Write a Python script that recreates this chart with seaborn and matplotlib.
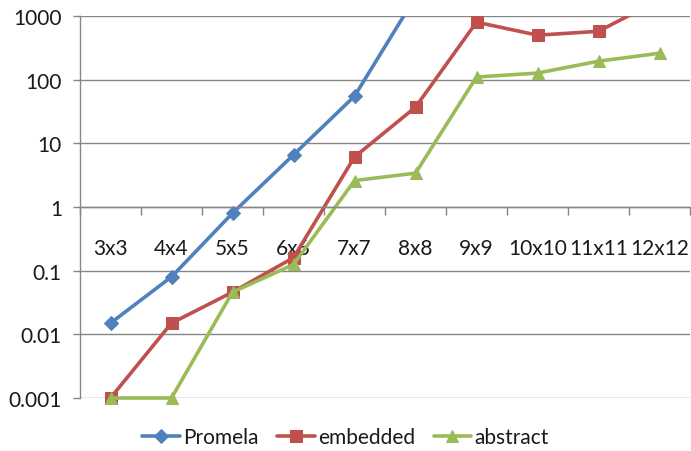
import numpy as np
import pandas as pd
import matplotlib
matplotlib.use("Agg")
import matplotlib.pyplot as plt
from matplotlib.patches import Rectangle
from matplotlib.ticker import FixedLocator, NullFormatter, FixedFormatter
import seaborn as sns

# Grid sizes on the category axis
categories = ["3x3", "4x4", "5x5", "6x6", "7x7", "8x8", "9x9", "10x10", "11x11", "12x12"]

# Run times per model (log scale); NaN where no value exists
promela = [0.015, 0.08, 0.8, 6.6, 55, 2000, np.nan, np.nan, np.nan, np.nan]
embedded = [0.001, 0.015, 0.046, 0.16, 6.1, 37, 800, 500, 575, 1800]
abstract = [0.001, 0.001, 0.046, 0.125, 2.6, 3.4, 110, 127, 195, 260]

series_names = ["Promela", "embedded", "abstract"]
series_values = [promela, embedded, abstract]
colors = ["#4F81BD", "#C0504D", "#9BBB59"]
markers = ["D", "s", "^"]
marker_sizes = [7, 8.5, 8.5]

ytick_values = [0.001, 0.01, 0.1, 1, 10, 100, 1000]
ytick_labels = ["0.001", "0.01", "0.1", "1", "10", "100", "1000"]

rows = []
for name, vals in zip(series_names, series_values):
    for i, v in enumerate(vals):
        rows.append({"pos": i, "value": v, "series": name})
df = pd.DataFrame(rows).dropna()

sns.set_theme(style="white")
plt.rcParams["font.family"] = ["Lato", "DejaVu Sans"]

FS = 15

fig = plt.figure(figsize=(6.91, 4.52), dpi=100)
ax = fig.add_axes([80 / 691, 1 - 399 / 452, 610 / 691, 382 / 452])

grid_color = "#868686"
text_color = "#1a1a1a"

for name, color, mk, ms in zip(series_names, colors, markers, marker_sizes):
    sub = df[df["series"] == name]
    sns.lineplot(data=sub, x="pos", y="value", ax=ax, color=color, marker=mk,
                 markersize=ms, markeredgecolor=color, linewidth=2.6,
                 label=name, legend=False, estimator=None, sort=False)

# clip only at the top of the plot so markers on the bottom gridline stay whole
for line in ax.lines:
    line.set_clip_path(Rectangle((-0.05, -0.1), 1.1, 1.1, transform=ax.transAxes))

ax.set_yscale("log")
ax.set_ylim(0.001, 1000)
ax.set_xlim(-0.5, len(categories) - 0.5)

# horizontal gridlines at each decade
ax.yaxis.set_major_locator(FixedLocator(ytick_values))
ax.yaxis.set_major_formatter(FixedFormatter(ytick_labels))
ax.yaxis.set_minor_locator(FixedLocator([]))
ax.grid(axis="y", color=grid_color, linewidth=1.0)
ax.grid(axis="x", visible=False)
ax.set_axisbelow(True)

# category axis crosses the value axis at 1
ax.spines["bottom"].set_position(("data", 1))
ax.spines["bottom"].set_color(grid_color)
ax.spines["left"].set_color(grid_color)
ax.spines["top"].set_visible(False)
ax.spines["right"].set_visible(False)
ax.spines["bottom"].set_linewidth(1.0)
ax.spines["left"].set_linewidth(1.0)

ax.set_xticks(range(len(categories)))
ax.set_xticklabels(categories)
ax.set_xticks(np.arange(-0.5, len(categories), 1.0), minor=True)
ax.xaxis.set_minor_formatter(NullFormatter())
ax.tick_params(axis="x", which="major", length=0, pad=22, labelsize=FS, labelcolor=text_color)
ax.tick_params(axis="x", which="minor", direction="out", length=6, width=1.0,
               color=grid_color, bottom=True)
ax.tick_params(axis="y", which="major", direction="out", length=5, width=1.0,
               color=grid_color, left=True, pad=8, labelsize=FS, labelcolor=text_color)
ax.set_xlabel("")
ax.set_ylabel("")

handles, labels = ax.get_legend_handles_labels()
fig.legend(handles, labels, loc="center", bbox_to_anchor=(0.5, 1 - 438 / 452), ncol=3,
           frameon=False, fontsize=FS, handlelength=1.8, handletextpad=0.15,
           columnspacing=0.9, labelcolor=text_color)

fig.savefig("out.png", dpi=100)
